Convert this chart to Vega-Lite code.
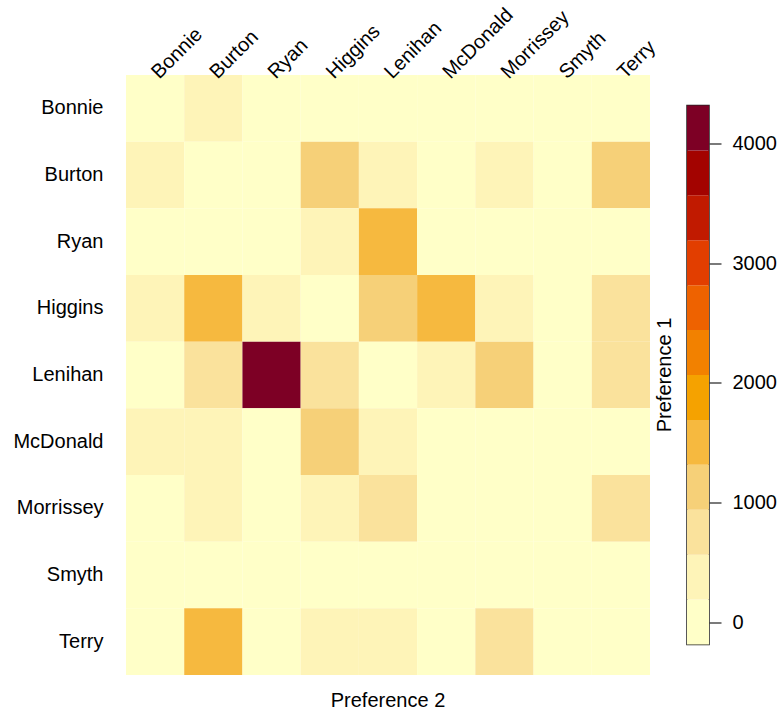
{
  "$schema": "https://vega.github.io/schema/vega-lite/v6.json",
  "padding": {"left": 12, "top": 4, "right": 5, "bottom": 5},
  "background": "white",
  "config": {
    "view": {"stroke": null},
    "font": "Liberation Sans",
    "axis": {
      "labelFont": "Liberation Sans",
      "labelFontSize": 20,
      "labelColor": "black",
      "domain": false,
      "ticks": false,
      "grid": false
    }
  },
  "datasets": {
    "cells": [
      {"p1": "Bonnie", "p2": "Bonnie", "n": 0},
      {"p1": "Bonnie", "p2": "Burton", "n": 310},
      {"p1": "Bonnie", "p2": "Ryan", "n": 60},
      {"p1": "Bonnie", "p2": "Higgins", "n": 90},
      {"p1": "Bonnie", "p2": "Lenihan", "n": 70},
      {"p1": "Bonnie", "p2": "McDonald", "n": 40},
      {"p1": "Bonnie", "p2": "Morrissey", "n": 80},
      {"p1": "Bonnie", "p2": "Smyth", "n": 10},
      {"p1": "Bonnie", "p2": "Terry", "n": 120},
      {"p1": "Burton", "p2": "Bonnie", "n": 290},
      {"p1": "Burton", "p2": "Burton", "n": 0},
      {"p1": "Burton", "p2": "Ryan", "n": 110},
      {"p1": "Burton", "p2": "Higgins", "n": 1150},
      {"p1": "Burton", "p2": "Lenihan", "n": 420},
      {"p1": "Burton", "p2": "McDonald", "n": 130},
      {"p1": "Burton", "p2": "Morrissey", "n": 380},
      {"p1": "Burton", "p2": "Smyth", "n": 20},
      {"p1": "Burton", "p2": "Terry", "n": 1180},
      {"p1": "Ryan", "p2": "Bonnie", "n": 40},
      {"p1": "Ryan", "p2": "Burton", "n": 150},
      {"p1": "Ryan", "p2": "Ryan", "n": 0},
      {"p1": "Ryan", "p2": "Higgins", "n": 330},
      {"p1": "Ryan", "p2": "Lenihan", "n": 1560},
      {"p1": "Ryan", "p2": "McDonald", "n": 60},
      {"p1": "Ryan", "p2": "Morrissey", "n": 90},
      {"p1": "Ryan", "p2": "Smyth", "n": 15},
      {"p1": "Ryan", "p2": "Terry", "n": 140},
      {"p1": "Higgins", "p2": "Bonnie", "n": 350},
      {"p1": "Higgins", "p2": "Burton", "n": 1520},
      {"p1": "Higgins", "p2": "Ryan", "n": 300},
      {"p1": "Higgins", "p2": "Higgins", "n": 0},
      {"p1": "Higgins", "p2": "Lenihan", "n": 1200},
      {"p1": "Higgins", "p2": "McDonald", "n": 1580},
      {"p1": "Higgins", "p2": "Morrissey", "n": 410},
      {"p1": "Higgins", "p2": "Smyth", "n": 30},
      {"p1": "Higgins", "p2": "Terry", "n": 820},
      {"p1": "Lenihan", "p2": "Bonnie", "n": 80},
      {"p1": "Lenihan", "p2": "Burton", "n": 780},
      {"p1": "Lenihan", "p2": "Ryan", "n": 4120},
      {"p1": "Lenihan", "p2": "Higgins", "n": 760},
      {"p1": "Lenihan", "p2": "Lenihan", "n": 0},
      {"p1": "Lenihan", "p2": "McDonald", "n": 440},
      {"p1": "Lenihan", "p2": "Morrissey", "n": 1130},
      {"p1": "Lenihan", "p2": "Smyth", "n": 25},
      {"p1": "Lenihan", "p2": "Terry", "n": 800},
      {"p1": "McDonald", "p2": "Bonnie", "n": 280},
      {"p1": "McDonald", "p2": "Burton", "n": 400},
      {"p1": "McDonald", "p2": "Ryan", "n": 120},
      {"p1": "McDonald", "p2": "Higgins", "n": 1170},
      {"p1": "McDonald", "p2": "Lenihan", "n": 360},
      {"p1": "McDonald", "p2": "McDonald", "n": 0},
      {"p1": "McDonald", "p2": "Morrissey", "n": 150},
      {"p1": "McDonald", "p2": "Smyth", "n": 20},
      {"p1": "McDonald", "p2": "Terry", "n": 170},
      {"p1": "Morrissey", "p2": "Bonnie", "n": 60},
      {"p1": "Morrissey", "p2": "Burton", "n": 430},
      {"p1": "Morrissey", "p2": "Ryan", "n": 80},
      {"p1": "Morrissey", "p2": "Higgins", "n": 390},
      {"p1": "Morrissey", "p2": "Lenihan", "n": 740},
      {"p1": "Morrissey", "p2": "McDonald", "n": 110},
      {"p1": "Morrissey", "p2": "Morrissey", "n": 0},
      {"p1": "Morrissey", "p2": "Smyth", "n": 10},
      {"p1": "Morrissey", "p2": "Terry", "n": 830},
      {"p1": "Smyth", "p2": "Bonnie", "n": 5},
      {"p1": "Smyth", "p2": "Burton", "n": 20},
      {"p1": "Smyth", "p2": "Ryan", "n": 10},
      {"p1": "Smyth", "p2": "Higgins", "n": 30},
      {"p1": "Smyth", "p2": "Lenihan", "n": 15},
      {"p1": "Smyth", "p2": "McDonald", "n": 10},
      {"p1": "Smyth", "p2": "Morrissey", "n": 20},
      {"p1": "Smyth", "p2": "Smyth", "n": 0},
      {"p1": "Smyth", "p2": "Terry", "n": 25},
      {"p1": "Terry", "p2": "Bonnie", "n": 70},
      {"p1": "Terry", "p2": "Burton", "n": 1540},
      {"p1": "Terry", "p2": "Ryan", "n": 100},
      {"p1": "Terry", "p2": "Higgins", "n": 370},
      {"p1": "Terry", "p2": "Lenihan", "n": 420},
      {"p1": "Terry", "p2": "McDonald", "n": 90},
      {"p1": "Terry", "p2": "Morrissey", "n": 790},
      {"p1": "Terry", "p2": "Smyth", "n": 15},
      {"p1": "Terry", "p2": "Terry", "n": 0}
    ],
    "bins": [
      {"lo": -185, "hi": 190, "mid": 2.5},
      {"lo": 190, "hi": 565, "mid": 377.5},
      {"lo": 565, "hi": 940, "mid": 752.5},
      {"lo": 940, "hi": 1315, "mid": 1127.5},
      {"lo": 1315, "hi": 1690, "mid": 1502.5},
      {"lo": 1690, "hi": 2065, "mid": 1877.5},
      {"lo": 2065, "hi": 2440, "mid": 2252.5},
      {"lo": 2440, "hi": 2815, "mid": 2627.5},
      {"lo": 2815, "hi": 3190, "mid": 3002.5},
      {"lo": 3190, "hi": 3565, "mid": 3377.5},
      {"lo": 3565, "hi": 3940, "mid": 3752.5},
      {"lo": 3940, "hi": 4315, "mid": 4127.5}
    ]
  },
  "bounds": "flush",
  "center": true,
  "spacing": 37,
  "resolve": {"scale": {"color": "shared"}},
  "hconcat": [
    {
      "width": 524,
      "height": 600,
      "data": {"name": "cells"},
      "title": {
        "text": "Preference 2",
        "orient": "bottom",
        "anchor": "middle",
        "offset": 16,
        "font": "Liberation Sans",
        "fontSize": 20,
        "fontWeight": "normal",
        "color": "black"
      },
      "mark": {"type": "rect", "strokeWidth": 0},
      "encoding": {
        "x": {
          "field": "p2",
          "type": "nominal",
          "sort": ["Bonnie", "Burton", "Ryan", "Higgins", "Lenihan", "McDonald", "Morrissey", "Smyth", "Terry"],
          "scale": {"paddingInner": 0, "paddingOuter": 0},
          "axis": {
            "orient": "top",
            "title": null,
            "labelAngle": -45,
            "labelAlign": "left",
            "labelBaseline": "middle",
            "labelPadding": 0
          }
        },
        "y": {
          "field": "p1",
          "type": "nominal",
          "sort": ["Bonnie", "Burton", "Ryan", "Higgins", "Lenihan", "McDonald", "Morrissey", "Smyth", "Terry"],
          "scale": {"paddingInner": 0, "paddingOuter": 0},
          "axis": {
            "title": null,
            "labelAlign": "right",
            "labelBaseline": "middle",
            "labelPadding": 23
          }
        },
        "color": {
          "field": "n",
          "type": "quantitative",
          "scale": {
            "type": "quantize",
            "domain": [-185, 4315],
            "range": ["#FFFFC8", "#FEF4B8", "#FAE29C", "#F6D078", "#F6B93F", "#F5A200",
                      "#F28100", "#EE6200", "#E23E00", "#C11A00", "#A30300", "#7D0025"]
          },
          "legend": null
        }
      }
    },
    {
      "width": 22,
      "height": 539,
      "data": {"name": "bins"},
      "view": {"stroke": "#222222", "strokeWidth": 1.5},
      "title": {
        "text": "Preference 1",
        "orient": "left",
        "anchor": "middle",
        "offset": 12,
        "font": "Liberation Sans",
        "fontSize": 20,
        "fontWeight": "normal",
        "color": "black"
      },
      "mark": {"type": "rect", "strokeWidth": 0},
      "encoding": {
        "x": {"value": 0},
        "x2": {"value": "width"},
        "y": {
          "field": "lo",
          "type": "quantitative",
          "scale": {"domain": [-185, 4315], "nice": false, "zero": false},
          "axis": {
            "orient": "right",
            "title": null,
            "values": [0, 1000, 2000, 3000, 4000],
            "format": "d",
            "ticks": true,
            "tickSize": 12,
            "tickColor": "#222222",
            "tickWidth": 1.2,
            "labelPadding": 11,
            "labelAlign": "left",
            "labelBaseline": "middle"
          }
        },
        "y2": {"field": "hi"},
        "color": {
          "field": "mid",
          "type": "quantitative",
          "scale": {
            "type": "quantize",
            "domain": [-185, 4315],
            "range": ["#FFFFC8", "#FEF4B8", "#FAE29C", "#F6D078", "#F6B93F", "#F5A200",
                      "#F28100", "#EE6200", "#E23E00", "#C11A00", "#A30300", "#7D0025"]
          },
          "legend": null
        }
      }
    }
  ]
}
